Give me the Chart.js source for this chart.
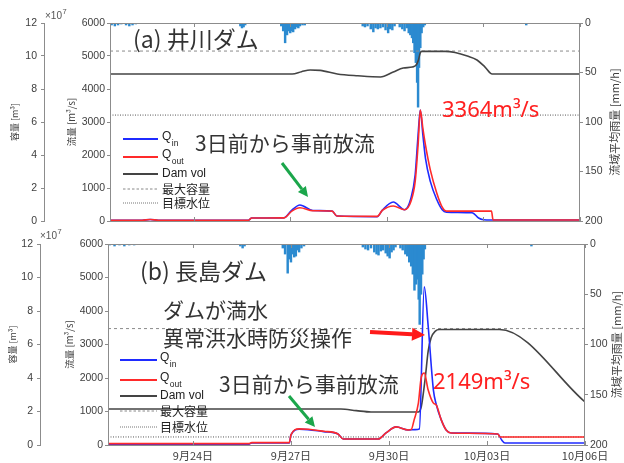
<!DOCTYPE html>
<html>
<head>
<meta charset="utf-8">
<script src="https://cdn.jsdelivr.net/npm/chart.js@4.4.0/dist/chart.umd.min.js"></script>
<style>
  html, body { margin: 0; padding: 0; background: #fff; width: 624px; height: 463px; overflow: hidden; }
  canvas { display: block; }
</style>
</head>
<body>
<canvas id="panelA" width="624" height="228"></canvas>
<canvas id="panelB" width="624" height="235"></canvas>
<script>
// ---- time axis (days counted from 9/21 00:00) ----
const X_MIN = 0.4, X_MAX = 15;
const dayTicks  = [3, 6, 9, 12, 15];
const dayLabels = ['9月24日', '9月27日', '9月30日', '10月03日', '10月06日'];

// ---- (a) 井川ダム ----
const peakA = 3364;
const qA_t  = [0.4, 1.4, 1.65, 1.9, 4.7, 4.8, 5.8, 6.05, 6.3, 6.7, 7.3, 7.45, 8.7, 8.86, 9.2, 9.55, 9.75, 9.88, 9.97, 10.04, 10.12, 10.2, 10.35, 10.55, 10.72, 10.85, 11.65, 11.85, 12.0, 12.25, 12.3, 15];
const qinA  = [20, 25, 45, 25, 25, 90, 95, 330, 485, 320, 300, 150, 130, 330, 575, 340, 700, 1400, 2600, peakA, 2600, 1900, 1200, 650, 340, 270, 250, 90, 40, 30, 30, 30];
const qoutA = [20, 25, 45, 25, 25, 90, 95, 300, 400, 310, 300, 150, 140, 320, 455, 340, 600, 1200, 2300, peakA, 2800, 2300, 1550, 850, 420, 300, 300, 300, 300, 300, 30, 30];
// reservoir volume, 10^7 m3
const volA_t = [0.4, 6.06, 6.35, 6.62, 6.93, 7.46, 8.1, 8.8, 9.2, 9.51, 9.79, 9.91, 9.98, 10.04, 10.08, 10.81, 11.12, 11.5, 11.8, 12.05, 12.27, 15];
const volA   = [8.91, 8.91, 9.05, 9.15, 9.13, 8.91, 8.8, 8.73, 9.03, 9.27, 9.33, 9.45, 9.75, 10.2, 10.28, 10.28, 10.21, 10.0, 9.76, 9.33, 8.91, 8.91];
const maxVolA = 10.3, targetVolA = 6.42;
// basin mean rainfall, mm/h
const rainA_t = [0.45, 0.55, 0.65, 0.75, 0.9, 1.0, 1.1, 1.2, 4.45, 4.5, 4.55, 4.6,
  5.72, 5.78, 5.84, 5.9, 5.96, 6.0, 6.05, 6.09, 6.15, 6.2, 6.25, 6.3, 6.38, 6.45,
  8.25, 8.32, 8.4, 8.5, 8.58, 8.65, 8.72, 8.8, 8.88, 8.96, 9.04, 9.1, 9.17, 9.24,
  9.4, 9.48, 9.55, 9.62, 9.68, 9.73, 9.78, 9.82, 9.86, 9.9, 9.94, 9.97, 10.0, 10.04, 10.08, 10.13, 10.18, 13.33];
const rainA = [2, 3, 2, 1, 2, 3, 2, 1, 3, 5, 4, 2,
  3, 8, 20, 12, 8, 10, 8, 9, 6, 4, 5, 3, 2, 2,
  3, 4, 3, 6, 9, 5, 6, 5, 4, 7, 10, 6, 7, 3,
  4, 6, 8, 5, 10, 12, 15, 20, 30, 40, 60, 85, 45, 25, 10, 4, 2, 2];

// ---- (b) 長島ダム ----
const peakB = 2149;
const qinB_t  = [0.4, 4.7, 4.8, 5.95, 6.0, 6.25, 6.52, 7.0, 7.44, 7.6, 8.67, 8.91, 9.22, 9.59, 9.8, 9.93, 10.08, 10.2, 10.36, 10.45, 10.6, 10.75, 10.9, 12.33, 12.45, 12.55, 15];
const qinB    = [20, 20, 60, 60, 300, 470, 460, 400, 330, 180, 180, 360, 540, 450, 460, 480, 4720, 3550, 1640, 1200, 750, 450, 360, 330, 150, 60, 60];
const qoutB_t = [0.4, 4.7, 4.8, 5.95, 6.0, 6.25, 6.52, 7.0, 7.44, 7.6, 8.67, 8.91, 9.22, 9.59, 9.68, 9.77, 9.9, 9.99, 10.08, 10.2, 10.36, 10.45, 10.6, 10.75, 10.9, 12.33, 12.4, 15];
const qoutB   = [40, 40, 70, 70, 300, 480, 470, 410, 330, 180, 180, 360, 540, 450, 460, 750, 1250, 2030, peakB, 1640, 1250, 1190, 750, 450, 360, 330, 240, 240];
const volB_t = [0.4, 7.53, 8.0, 8.45, 9.9, 9.99, 10.11, 10.2, 10.29, 10.42, 10.54, 12.38, 15];
const volB   = [2.15, 2.15, 2.05, 1.97, 1.97, 2.3, 4.0, 5.6, 6.4, 6.8, 6.9, 6.9, 2.57];
const maxVolB = 6.95, targetVolB = 0.48;
const rainB_t = [0.45, 0.6, 0.75, 0.9, 1.05, 1.2, 4.45, 4.52, 4.58,
  5.75, 5.82, 5.9, 5.95, 6.0, 6.05, 6.1, 6.15, 6.2, 6.25, 6.32, 6.4,
  8.2, 8.28, 8.36, 8.45, 8.55, 8.62, 8.68, 8.75, 8.82, 8.9, 8.96, 9.02, 9.08, 9.14, 9.2,
  9.35, 9.42, 9.5, 9.56, 9.62, 9.68, 9.73, 9.78, 9.83, 9.87, 9.91, 9.94, 9.98, 10.02, 10.06, 10.1, 13.36];
const rainB = [1, 2, 1, 2, 1, 1, 2, 4, 2,
  4, 10, 29, 15, 18, 10, 13, 12, 6, 8, 4, 2,
  3, 5, 6, 4, 8, 10, 11, 7, 6, 9, 12, 14, 8, 6, 3,
  4, 6, 10, 12, 18, 22, 30, 46, 40, 35, 55, 80, 50, 30, 15, 5, 2];

// ---- styling ----
const C_IN = '#1f2bff', C_OUT = '#ff2a2a', C_VOL = '#444444', C_RAIN = '#2b8ad0';
const C_AXIS = '#8c8c8c', C_TEXT = '#333333', C_GREEN = '#1ba64b';
const NUM_FONT = "'Liberation Sans', Arial, sans-serif";
const CJK_FONT = "'Noto Sans CJK JP', 'Noto Sans', sans-serif";

Chart.defaults.font.family = NUM_FONT;
Chart.defaults.color = '#404040';

const pts = (ts, vs) => ts.map((t, i) => ({ x: t, y: vs[i] }));

function arrow(ctx, x1, y1, x2, y2, color, w, hl, hw) {
  const a = Math.atan2(y2 - y1, x2 - x1);
  const bx = x2 - hl * Math.cos(a), by = y2 - hl * Math.sin(a);
  ctx.save();
  ctx.strokeStyle = color; ctx.fillStyle = color; ctx.lineWidth = w;
  ctx.beginPath(); ctx.moveTo(x1, y1); ctx.lineTo(bx, by); ctx.stroke();
  ctx.beginPath(); ctx.moveTo(x2, y2);
  ctx.lineTo(bx + hw / 2 * Math.sin(a), by - hw / 2 * Math.cos(a));
  ctx.lineTo(bx - hw / 2 * Math.sin(a), by + hw / 2 * Math.cos(a));
  ctx.closePath(); ctx.fill();
  ctx.restore();
}

function text(ctx, str, x, y, size, color, family) {
  ctx.save();
  ctx.font = size + 'px ' + (family || CJK_FONT);
  ctx.fillStyle = color || C_TEXT;
  ctx.textBaseline = 'middle';
  ctx.textAlign = 'left';
  ctx.fillText(str, x, y);
  ctx.restore();
}

function drawLegend(ctx, lx0, lx1, tx, ys) {
  const rows = [
    { main: 'Q', sub: 'in',  color: C_IN,  dash: [],     w: 2 },
    { main: 'Q', sub: 'out', color: C_OUT, dash: [],     w: 2 },
    { main: 'Dam vol',       color: C_VOL, dash: [],     w: 2 },
    { main: '最大容量',        color: '#888', dash: [2.5, 2], w: 1 },
    { main: '目標水位',        color: '#777', dash: [1, 1],   w: 1 }
  ];
  ctx.save();
  rows.forEach((r, i) => {
    const y = ys[i];
    ctx.strokeStyle = r.color; ctx.lineWidth = r.w; ctx.setLineDash(r.dash);
    ctx.beginPath(); ctx.moveTo(lx0, y); ctx.lineTo(lx1, y); ctx.stroke();
    ctx.setLineDash([]);
    ctx.fillStyle = '#222';
    ctx.textBaseline = 'middle';
    ctx.font = '12px ' + (i >= 3 ? CJK_FONT : NUM_FONT);
    ctx.fillText(r.main, tx, y - (r.sub ? 2 : 0));
    if (r.sub) {
      const w = ctx.measureText(r.main).width;
      ctx.font = '8.5px ' + NUM_FONT;
      ctx.fillText(r.sub, tx + w + 0.5, y + 5);
    }
  });
  ctx.restore();
}

function sciLabel(ctx, x, y) {
  ctx.save();
  ctx.fillStyle = '#555';
  ctx.textBaseline = 'alphabetic';
  ctx.font = '10px ' + NUM_FONT;
  ctx.fillText('×10', x, y);
  const w = ctx.measureText('×10').width;
  ctx.font = '7.5px ' + NUM_FONT;
  ctx.fillText('7', x + w + 0.5, y - 5);
  ctx.restore();
}

function makePanel(canvasId, p) {
  const overlay = {
    id: 'overlay',
    afterDatasetsDraw(chart) {
      const { ctx, chartArea: a, scales } = chart;
      ctx.save();
      // plot box
      ctx.strokeStyle = C_AXIS; ctx.lineWidth = 1;
      ctx.strokeRect(Math.round(a.left) + 0.5, Math.round(a.top) + 0.5,
                     Math.round(a.right - a.left) - 1, Math.round(a.bottom - a.top));
      // inward date ticks on top and bottom edges
      dayTicks.forEach(v => {
        const x = Math.round(scales.x.getPixelForValue(v)) + 0.5;
        ctx.beginPath();
        ctx.moveTo(x, a.bottom); ctx.lineTo(x, a.bottom - 4);
        ctx.moveTo(x, a.top); ctx.lineTo(x, a.top + 4);
        ctx.stroke();
      });
      ctx.restore();
      // right axis title (reads bottom to top)
      ctx.save();
      ctx.translate(p.rainTitleX, (a.top + a.bottom) / 2);
      ctx.rotate(-Math.PI / 2);
      ctx.font = '11px ' + CJK_FONT;
      ctx.fillStyle = '#404040';
      ctx.textAlign = 'center'; ctx.textBaseline = 'middle';
      ctx.fillText('流域平均雨量 [mm/h]', 0, 0);
      ctx.restore();
      sciLabel(ctx, p.sciX, p.sciY);
      drawLegend(ctx, p.legX0, p.legX1, p.legTX, p.legY);
      p.annotate(ctx);
    }
  };

  // fixed box widths; label overflow is absorbed by the layout padding
  const fixW = w => s => { s.width = w; s.paddingTop = 0; s.paddingBottom = 0; };
  const plain = v => String(v);

  return new Chart(document.getElementById(canvasId), {
    type: 'line',
    data: {
      datasets: [
        { type: 'bar', label: '雨量', yAxisID: 'rain', data: pts(p.rain_t, p.rain),
          backgroundColor: C_RAIN, borderWidth: 0, barThickness: 1.8, order: 10 },
        { label: '最大容量', yAxisID: 'vol', data: pts([X_MIN, X_MAX], [p.maxVol, p.maxVol]),
          borderColor: '#8a8a8a', borderWidth: 1, borderDash: [3, 3], pointRadius: 0, order: 6 },
        { label: '目標水位', yAxisID: 'vol', data: pts([X_MIN, X_MAX], [p.targetVol, p.targetVol]),
          borderColor: '#555', borderWidth: 1, borderDash: [1, 1.5], pointRadius: 0, order: 6 },
        { label: 'Dam vol', yAxisID: 'vol', data: pts(p.vol_t, p.vol),
          borderColor: C_VOL, borderWidth: 1.6, pointRadius: 0, cubicInterpolationMode: 'monotone', order: 4 },
        { label: 'Qin', yAxisID: 'flow', data: pts(p.qin_t, p.qin),
          borderColor: C_IN, borderWidth: 1.6, pointRadius: 0, cubicInterpolationMode: 'monotone', order: 3 },
        { label: 'Qout', yAxisID: 'flow', data: pts(p.qout_t, p.qout),
          borderColor: C_OUT, borderWidth: 1.6, pointRadius: 0, cubicInterpolationMode: 'monotone', order: 2 }
      ]
    },
    options: {
      responsive: false, animation: false, devicePixelRatio: 1, events: [],
      layout: { padding: { top: p.padTop, left: 0, right: 0, bottom: 0 } },
      plugins: { legend: { display: false }, tooltip: { enabled: false } },
      scales: {
        x: {
          type: 'linear', position: 'bottom', min: X_MIN, max: X_MAX, offset: false,
          afterBuildTicks: s => { s.ticks = dayTicks.map(v => ({ value: v })); },
          ticks: { display: p.showDates, autoSkip: false, maxRotation: 0, padding: 4,
                   font: { family: CJK_FONT, size: 11 }, color: '#404040',
                   callback: v => dayLabels[dayTicks.indexOf(v)] },
          grid: { display: false, drawTicks: false },
          border: { display: false },
          afterFit: s => { s.height = p.xHeight; s.paddingLeft = 0; s.paddingRight = 0; }
        },
        vol: {
          type: 'linear', position: 'left', weight: 10, min: 0, max: 12,
          ticks: { stepSize: 2, padding: 4, font: { size: 10.5 }, callback: plain },
          grid: { display: true, drawOnChartArea: false, drawTicks: true, tickLength: 3, color: C_AXIS },
          border: { display: true, color: C_AXIS },
          title: { display: true, text: '容量 [m³]', font: { family: CJK_FONT, size: 9 },
                   color: '#404040', padding: { top: p.volTitlePad } },
          afterFit: fixW(p.volW)
        },
        flow: {
          type: 'linear', position: 'left', weight: 1, min: 0, max: 6000,
          ticks: { stepSize: 1000, padding: 2, font: { size: 10.5 }, callback: plain },
          grid: { display: true, drawOnChartArea: false, drawTicks: true, tickLength: 3, color: C_AXIS },
          border: { display: false },
          title: { display: true, text: '流量 [m³/s]', font: { family: CJK_FONT, size: 9.5 },
                   color: '#404040', padding: { top: p.flowTitlePad } },
          afterFit: fixW(p.flowW)
        },
        rain: {
          type: 'linear', position: 'right', reverse: true, min: 0, max: 200,
          ticks: { stepSize: 50, padding: 2, font: { size: 10.5 }, callback: plain },
          grid: { display: true, drawOnChartArea: false, drawTicks: true, tickLength: 3, color: C_AXIS },
          border: { display: false },
          afterFit: fixW(p.rainW)
        }
      }
    },
    plugins: [overlay]
  });
}

makePanel('panelA', {
  qin_t: qA_t, qin: qinA, qout_t: qA_t, qout: qoutA,
  vol_t: volA_t, vol: volA, maxVol: maxVolA, targetVol: targetVolA,
  rain_t: rainA_t, rain: rainA,
  padTop: 23, xHeight: 7, showDates: false,
  volW: 44, flowW: 66, rainW: 44, volTitlePad: 9, flowTitlePad: 22,
  rainTitleX: 615, sciX: 45, sciY: 19,
  legX0: 123, legX1: 158, legTX: 162, legY: [139, 157, 174, 189, 203],
  annotate(ctx) {
    text(ctx, '(a) 井川ダム', 133, 39, 23);
    text(ctx, '3日前から事前放流', 195, 143, 21);
    text(ctx, peakA + 'm³/s', 442, 111, 22, '#ff2020', "'Noto Sans', sans-serif");
    arrow(ctx, 282, 163, 308, 197, C_GREEN, 3, 10, 10);
  }
});

makePanel('panelB', {
  qin_t: qinB_t, qin: qinB, qout_t: qoutB_t, qout: qoutB,
  vol_t: volB_t, vol: volB, maxVol: maxVolB, targetVol: targetVolB,
  rain_t: rainB_t, rain: rainB,
  padTop: 16, xHeight: 18, showDates: true,
  volW: 40, flowW: 68, rainW: 39, volTitlePad: 7, flowTitlePad: 24,
  rainTitleX: 617, sciX: 40, sciY: 11,
  legX0: 120, legX1: 157, legTX: 160, legY: [132, 152, 168, 183, 199],
  annotate(ctx) {
    text(ctx, '(b) 長島ダム', 140, 43, 23);
    text(ctx, 'ダムが満水', 163, 82, 21);
    text(ctx, '異常洪水時防災操作', 163, 110, 21);
    text(ctx, '3日前から事前放流', 219, 156, 21);
    text(ctx, peakB + 'm³/s', 433, 155, 22, '#ff2020', "'Noto Sans', sans-serif");
    arrow(ctx, 370, 104, 425, 107, '#ff1a1a', 4, 13, 13);
    arrow(ctx, 289, 168, 315, 199, C_GREEN, 3, 10, 10);
  }
});
</script>
</body>
</html>
